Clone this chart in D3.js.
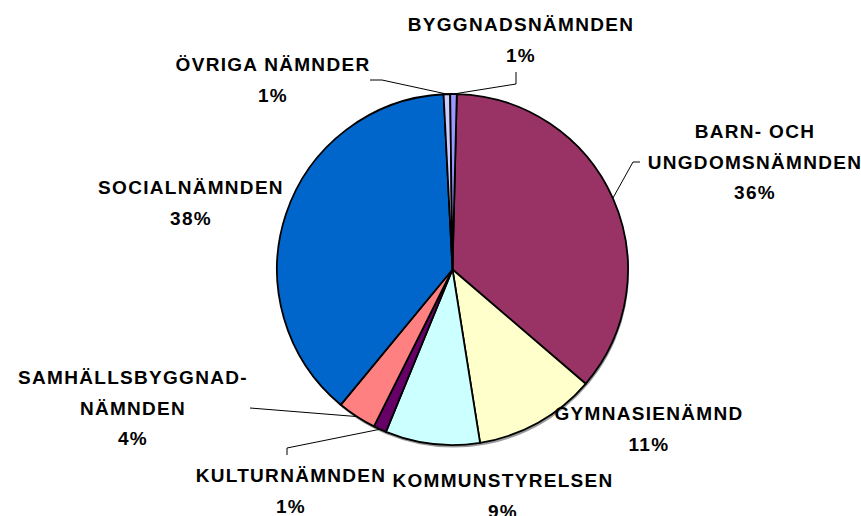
<!DOCTYPE html>
<html>
<head>
<meta charset="utf-8">
<script src="https://cdn.jsdelivr.net/npm/d3@7"></script>
<style>
  html, body { margin: 0; padding: 0; background: #fff; }
  svg { display: block; }
  text { font-family: "Liberation Sans", Arial, sans-serif; font-weight: bold; font-size: 19px; fill: #000; letter-spacing: 1.3px; }
</style>
</head>
<body>
<svg id="chart" width="861" height="516"></svg>
<script>
// ---- data (clockwise from the top of the pie) ----
const categories = [
  "BARN- OCH\nUNGDOMSNÄMNDEN",
  "GYMNASIENÄMND",
  "KOMMUNSTYRELSEN",
  "KULTURNÄMNDEN",
  "SAMHÄLLSBYGGNAD-\nNÄMNDEN",
  "SOCIALNÄMNDEN",
  "ÖVRIGA NÄMNDER",
  "BYGGNADSNÄMNDEN"
];
const values = [35.9, 11.2, 8.7, 1.2, 3.6, 38.2, 0.6, 0.6];
const colors = ["#993366", "#FFFFCC", "#CCFFFF", "#660066", "#FF8080", "#0066CC", "#CCCCFF", "#9999FF"];

// ---- layout (label anchors, leader-line label ends) ----
const labelLayout = [
  { x: 755, y: 138, leader: [[640, 162], [633, 162]] },
  { x: 649, y: 420, leader: null },
  { x: 503, y: 487, leader: null },
  { x: 291, y: 482, leader: [[287, 455], [287, 448]] },
  { x: 133, y: 384, leader: [[250, 408]] },
  { x: 191, y: 194, leader: null },
  { x: 273, y: 71,  leader: [[370, 80], [382, 80]] },
  { x: 521, y: 31,  leader: [[516, 72], [516, 84]] }
];

const W = 861, H = 516;
const cx = 452.5, cy = 269.5, R = 175.5;
const startDeg = 1.4;
const lineH = 30.5;

const svg = d3.select("#chart");
const total = d3.sum(values);
const pct = d3.format(".0%");

const pie = d3.pie()
  .sort(null)
  .value(d => d)
  .startAngle(startDeg * Math.PI / 180)
  .endAngle(startDeg * Math.PI / 180 + 2 * Math.PI);
const arcs = pie(values);
const arc = d3.arc().innerRadius(0).outerRadius(R);

const g = svg.append("g").attr("transform", `translate(${cx},${cy})`);

// shadow
g.append("circle").attr("cx", 1).attr("cy", 2.5).attr("r", R)
  .attr("fill", "#9a9a9a");

g.selectAll("path.slice")
  .data(arcs)
  .enter().append("path")
  .attr("class", "slice")
  .attr("d", arc)
  .attr("fill", (d, i) => colors[i])
  .attr("stroke", "#000")
  .attr("stroke-width", 1.8)
  .attr("stroke-linejoin", "round");

// leader lines
arcs.forEach((d, i) => {
  const L = labelLayout[i];
  if (!L.leader) return;
  const a = (d.startAngle + d.endAngle) / 2;
  const edge = [cx + R * Math.sin(a), cy - R * Math.cos(a)];
  const pts = L.leader.concat([edge]);
  svg.append("path")
    .attr("d", d3.line()(pts))
    .attr("fill", "none")
    .attr("stroke", "#000")
    .attr("stroke-width", 1);
});

// labels
arcs.forEach((d, i) => {
  const L = labelLayout[i];
  const lines = categories[i].split("\n").concat([pct(values[i] / total)]);
  const t = svg.append("text")
    .attr("text-anchor", "middle")
    .attr("x", L.x)
    .attr("y", L.y);
  lines.forEach((s, k) => {
    t.append("tspan").attr("x", L.x).attr("y", L.y + k * lineH).text(s);
  });
});
</script>
</body>
</html>
